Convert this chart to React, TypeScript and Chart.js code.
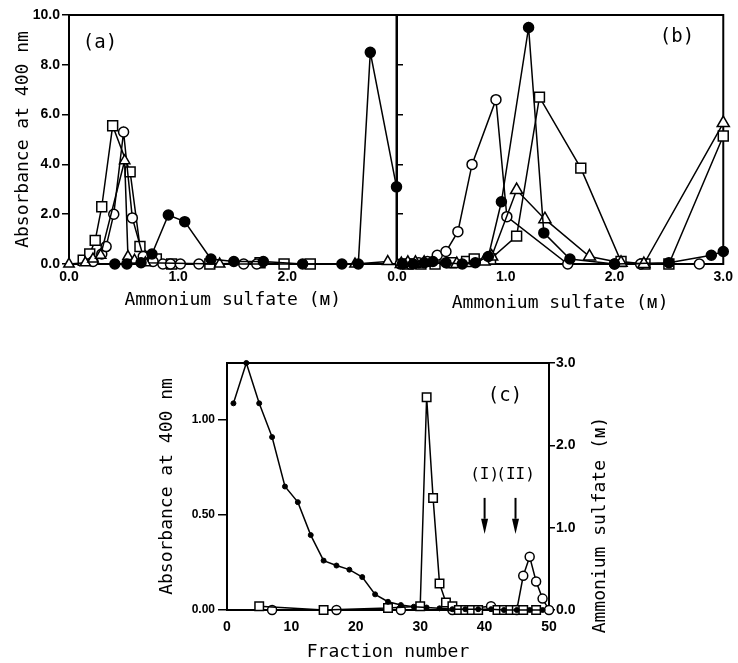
import React, { useEffect, useRef } from 'react';
import { Chart, registerables } from 'chart.js';
Chart.register(...registerables);

// ---------- Panel (a) ----------
const aSquareX = [0.13, 0.19, 0.24, 0.30, 0.40, 0.56, 0.65, 0.80, 0.94, 1.29, 1.75, 1.97, 2.21];
const aSquareY = [0.15, 0.4, 0.95, 2.3, 5.55, 3.7, 0.7, 0.2, 0, 0, 0.05, 0, 0];
const aCircleX = [0.22, 0.30, 0.34, 0.41, 0.50, 0.58, 0.68, 0.77, 0.86, 0.93, 1.02, 1.19, 1.60, 1.72];
const aCircleY = [0.1, 0.4, 0.7, 2.0, 5.3, 1.85, 0.3, 0.1, 0, 0, 0, 0, 0, 0];
const aTriX = [0.0, 0.15, 0.22, 0.29, 0.51, 0.54, 0.60, 0.70, 1.38, 2.62, 2.92];
const aTriY = [0, 0.05, 0.2, 0.35, 4.15, 0.3, 0.15, 0.05, 0, 0, 0.1];
const aDotX = [0.42, 0.53, 0.66, 0.76, 0.91, 1.06, 1.30, 1.51, 1.78, 2.14, 2.50, 2.65, 2.76, 3.0];
const aDotY = [0, 0, 0.05, 0.4, 1.97, 1.7, 0.2, 0.1, 0.1, 0, 0, 0, 8.5, 3.1];

// ---------- Panel (b) ----------
const bCircleX = [0.03, 0.12, 0.20, 0.28, 0.37, 0.45, 0.56, 0.69, 0.91, 1.01, 1.57, 2.0, 2.24, 2.78];
const bCircleY = [0, 0, 0.05, 0.1, 0.35, 0.5, 1.3, 4.0, 6.6, 1.9, 0, 0, 0, 0];
const bDotX = [0.05, 0.15, 0.25, 0.33, 0.45, 0.60, 0.72, 0.84, 0.96, 1.21, 1.35, 1.59, 2.0, 2.5, 2.89, 3.0];
const bDotY = [0, 0, 0.05, 0.1, 0.05, 0, 0.05, 0.3, 2.5, 9.5, 1.25, 0.2, 0, 0.05, 0.35, 0.5];
const bSquareX = [0.10, 0.22, 0.35, 0.50, 0.64, 0.71, 0.86, 1.10, 1.31, 1.69, 2.06, 2.28, 2.50, 3.0];
const bSquareY = [0, 0, 0, 0.05, 0.1, 0.2, 0.2, 1.12, 6.7, 3.85, 0.1, 0, 0, 5.14];
const bTriX = [0.04, 0.10, 0.17, 0.25, 0.55, 0.80, 0.87, 1.10, 1.36, 1.77, 2.06, 2.27, 3.0];
const bTriY = [0, 0.05, 0.05, 0.05, 0, 0.1, 0.3, 2.97, 1.8, 0.3, 0.05, 0, 5.66];

// ---------- Panel (c) ----------
const cDotX = [1, 3, 5, 7, 9, 11, 13, 15, 17, 19, 21, 23, 25, 27, 29, 31, 33, 35, 37, 39, 41, 43, 45, 47, 49];
const cDotY = [2.51, 3.0, 2.51, 2.1, 1.5, 1.31, 0.91, 0.6, 0.54, 0.49, 0.4, 0.19, 0.1, 0.06, 0.04, 0.03, 0.02, 0.01, 0.01, 0.01, 0.01, 0, 0, 0, 0];
const cSquareX = [5, 15, 25, 30, 31, 32, 33, 34, 35, 36, 37, 38, 39, 42, 43, 44, 45, 46, 48];
const cSquareY = [0.02, 0, 0.01, 0.02, 1.12, 0.59, 0.14, 0.04, 0.02, 0, 0, 0, 0, 0, 0, 0, 0, 0, 0];
const cCircleX = [7, 17, 27, 35, 41, 45, 46, 47, 48, 49, 50];
const cCircleY = [0, 0, 0, 0, 0.02, 0, 0.18, 0.28, 0.15, 0.06, 0];

const aTicksX = [0, 1, 2];
const bTicksX = [0, 1, 2, 3];
const arrowMarks = [
  { x: 40, label: '(I)' },
  { x: 44.8, label: '(II)' },
];

const MONO = '"DejaVu Sans Mono", "Liberation Mono", monospace';
const TICKF = '"Liberation Sans", Arial, sans-serif';

const pts = (xs: number[], ys: number[]) => xs.map((x, i) => ({ x, y: ys[i] }));

function ds(label: string, xs: number[], ys: number[], style: string, filled: boolean, r: number, extra: any = {}) {
  return {
    label,
    data: pts(xs, ys),
    showLine: true,
    borderColor: '#000',
    borderWidth: 1.5,
    pointStyle: style,
    pointRadius: r,
    pointBackgroundColor: filled ? '#000' : '#fff',
    pointBorderColor: '#000',
    pointBorderWidth: 1.5,
    tension: 0,
    clip: false,
    ...extra,
  };
}

const framePlugin = {
  id: 'frame',
  beforeDatasetsDraw(chart: any) {
    const { ctx, chartArea } = chart;
    const { left, top, right, bottom } = chartArea;
    ctx.save();
    ctx.strokeStyle = '#000';
    ctx.lineWidth = 2;
    ctx.strokeRect(left, top, right - left, bottom - top);
    ctx.restore();
  },
  afterDatasetsDraw(chart: any, _args: any, opts: any) {
    const { ctx, chartArea } = chart;
    ctx.save();
    ctx.fillStyle = '#000';
    ctx.strokeStyle = '#000';
    for (const t of (opts && opts.texts) || []) {
      ctx.save();
      ctx.font = t.font;
      ctx.textAlign = 'center';
      ctx.textBaseline = 'middle';
      const x = (t.fromRight ? chartArea.right : chartArea.left) + t.dx;
      const y = chartArea.top + t.dy;
      ctx.translate(x, y);
      if (t.rot) ctx.rotate(t.rot);
      ctx.fillText(t.text, 0, 0);
      ctx.restore();
    }
    if (opts && opts.arrows) {
      const xs = chart.scales.x;
      const ys = chart.scales.y;
      for (const a of opts.arrows) {
        const px = xs.getPixelForValue(a.x);
        const yLab = ys.getPixelForValue(0.71);
        const yTop = ys.getPixelForValue(0.59);
        const yHead = ys.getPixelForValue(0.48);
        const yTip = ys.getPixelForValue(0.40);
        ctx.font = `16px ${MONO}`;
        ctx.textAlign = 'center';
        ctx.textBaseline = 'middle';
        ctx.fillText(a.label, px, yLab);
        ctx.lineWidth = 2;
        ctx.beginPath();
        ctx.moveTo(px, yTop);
        ctx.lineTo(px, yHead);
        ctx.stroke();
        ctx.beginPath();
        ctx.moveTo(px - 3.5, yHead);
        ctx.lineTo(px + 3.5, yHead);
        ctx.lineTo(px, yTip);
        ctx.closePath();
        ctx.fill();
      }
    }
    ctx.restore();
  },
};

const baseOpts = {
  responsive: false,
  animation: false,
  events: [],
};

function makeA(canvas: HTMLCanvasElement) {
  return new Chart(canvas, {
    type: 'scatter',
    data: {
      datasets: [
        ds('dots', aDotX, aDotY, 'circle', true, 5),
        ds('triangles', aTriX, aTriY, 'triangle', false, 6),
        ds('circles', aCircleX, aCircleY, 'circle', false, 5),
        ds('squares', aSquareX, aSquareY, 'rect', false, 7),
      ],
    },
    options: {
      ...baseOpts,
      layout: { padding: { left: 0, top: 15, right: 8, bottom: 0 } },
      plugins: {
        legend: { display: false },
        tooltip: { enabled: false },
        frame: { texts: [{ text: '(a)', dx: 31, dy: 28, font: `19px ${MONO}` }] },
      },
      scales: {
        x: {
          type: 'linear', min: 0, max: 3,
          afterBuildTicks: (s: any) => { s.ticks = aTicksX.map((v) => ({ value: v })); },
          ticks: { callback: (v: any) => Number(v).toFixed(1), font: { family: TICKF, size: 14, weight: 'bold' }, padding: 5, color: '#000', maxRotation: 0 },
          grid: { display: false, drawTicks: false },
          border: { display: false },
          title: { display: true, text: 'Ammonium sulfate (ᴍ)', font: { family: MONO, size: 18 }, color: '#000', padding: { top: 0, bottom: 9 } },
          afterFit: (s: any) => { s.height = 56; },
        },
        y: {
          type: 'linear', min: 0, max: 10,
          ticks: { stepSize: 2, callback: (v: any) => Number(v).toFixed(1), font: { family: TICKF, size: 14, weight: 'bold' }, padding: 2, color: '#000' },
          grid: { drawOnChartArea: false, drawTicks: true, tickLength: 7, color: '#000', lineWidth: 1.5 },
          border: { display: false },
          title: { display: true, text: 'Absorbance at 400 nm', font: { family: MONO, size: 18 }, color: '#000', padding: { top: 13, bottom: 0 } },
          afterFit: (s: any) => { s.width = 69; },
        },
      },
    },
    plugins: [framePlugin],
  } as any);
}

function makeB(canvas: HTMLCanvasElement) {
  return new Chart(canvas, {
    type: 'scatter',
    data: {
      datasets: [
        ds('dots', bDotX, bDotY, 'circle', true, 5),
        ds('triangles', bTriX, bTriY, 'triangle', false, 7),
        ds('circles', bCircleX, bCircleY, 'circle', false, 5),
        ds('squares', bSquareX, bSquareY, 'rect', false, 7),
      ],
    },
    options: {
      ...baseOpts,
      layout: { padding: { left: 0, top: 15, right: 11, bottom: 0 } },
      plugins: {
        legend: { display: false },
        tooltip: { enabled: false },
        frame: { texts: [{ text: '(b)', dx: 280, dy: 22, font: `19px ${MONO}` }] },
      },
      scales: {
        x: {
          type: 'linear', min: 0, max: 3,
          afterBuildTicks: (s: any) => { s.ticks = bTicksX.map((v) => ({ value: v })); },
          ticks: { callback: (v: any) => Number(v).toFixed(1), font: { family: TICKF, size: 14, weight: 'bold' }, padding: 5, color: '#000', maxRotation: 0 },
          grid: { display: false, drawTicks: false },
          border: { display: false },
          title: { display: true, text: 'Ammonium sulfate (ᴍ)', font: { family: MONO, size: 18 }, color: '#000', padding: { top: 0, bottom: 6 } },
          afterFit: (s: any) => { s.height = 56; },
        },
        y: {
          type: 'linear', min: 0, max: 10,
          ticks: { stepSize: 2, display: false },
          grid: { drawOnChartArea: false, drawTicks: true, tickLength: -6, color: '#000', lineWidth: 1.5 },
          border: { display: false },
          afterFit: (s: any) => { s.width = 17; },
        },
      },
    },
    plugins: [framePlugin],
  } as any);
}

function makeC(canvas: HTMLCanvasElement) {
  return new Chart(canvas, {
    type: 'scatter',
    data: {
      datasets: [
        ds('ammonium sulfate', cDotX, cDotY, 'circle', true, 2.5, { yAxisID: 'y2', pointBorderWidth: 1 }),
        ds('squares', cSquareX, cSquareY, 'rect', false, 6, { yAxisID: 'y' }),
        ds('circles', cCircleX, cCircleY, 'circle', false, 4.5, { yAxisID: 'y' }),
      ],
    },
    options: {
      ...baseOpts,
      layout: { padding: { left: 0, top: 23, right: 0, bottom: 0 } },
      plugins: {
        legend: { display: false },
        tooltip: { enabled: false },
        frame: {
          texts: [
            { text: '(c)', dx: 278, dy: 33, font: `19px ${MONO}` },
            { text: 'Ammonium sulfate (ᴍ)', fromRight: true, dx: 51, dy: 162, font: `18px ${MONO}`, rot: -Math.PI / 2 },
          ],
          arrows: arrowMarks,
        },
      },
      scales: {
        x: {
          type: 'linear', min: 0, max: 50,
          ticks: { stepSize: 10, font: { family: TICKF, size: 14, weight: 'bold' }, padding: 9, color: '#000', maxRotation: 0 },
          grid: { display: false, drawTicks: false },
          border: { display: false },
          title: { display: true, text: 'Fraction number', font: { family: MONO, size: 18 }, color: '#000', padding: { top: 0, bottom: 0 } },
          afterFit: (s: any) => { s.height = 53; },
        },
        y: {
          type: 'linear', position: 'left', min: 0, max: 1.3,
          ticks: { stepSize: 0.5, includeBounds: false, callback: (v: any) => Number(v).toFixed(2), font: { family: TICKF, size: 12, weight: 'bold' }, padding: 3, color: '#000' },
          grid: { drawOnChartArea: false, drawTicks: true, tickLength: 9, color: '#000', lineWidth: 1.5 },
          border: { display: false },
          title: { display: true, text: 'Absorbance at 400 nm', font: { family: MONO, size: 18 }, color: '#000', padding: { top: 27, bottom: 0 } },
          afterFit: (s: any) => { s.width = 97; },
        },
        y2: {
          type: 'linear', position: 'right', min: 0, max: 3,
          ticks: { stepSize: 1, callback: (v: any) => Number(v).toFixed(1), font: { family: TICKF, size: 14, weight: 'bold' }, padding: 1, color: '#000' },
          grid: { drawOnChartArea: false, drawTicks: true, tickLength: 6, color: '#000', lineWidth: 1.5 },
          border: { display: false },
          afterFit: (s: any) => { s.width = 71; },
        },
      },
    },
    plugins: [framePlugin],
  } as any);
}

export default function App() {
  const refA = useRef<HTMLCanvasElement>(null);
  const refB = useRef<HTMLCanvasElement>(null);
  const refC = useRef<HTMLCanvasElement>(null);

  useEffect(() => {
    Chart.defaults.color = '#000';
    const ca = makeA(refA.current!);
    const cb = makeB(refB.current!);
    const cc = makeC(refC.current!);
    return () => {
      ca.destroy();
      cb.destroy();
      cc.destroy();
    };
  }, []);

  const abs: React.CSSProperties = { position: 'absolute' };
  return (
    <div style={{ position: 'absolute', left: 0, top: 0, width: 738, height: 663, background: '#fff', overflow: 'hidden' }}>
      <canvas ref={refA} width={405} height={320} style={{ ...abs, left: 0, top: 0, width: 405, height: 320 }} />
      <canvas ref={refB} width={358} height={320} style={{ ...abs, left: 380, top: 0, width: 358, height: 320 }} />
      <canvas ref={refC} width={490} height={323} style={{ ...abs, left: 130, top: 340, width: 490, height: 323 }} />
    </div>
  );
}
